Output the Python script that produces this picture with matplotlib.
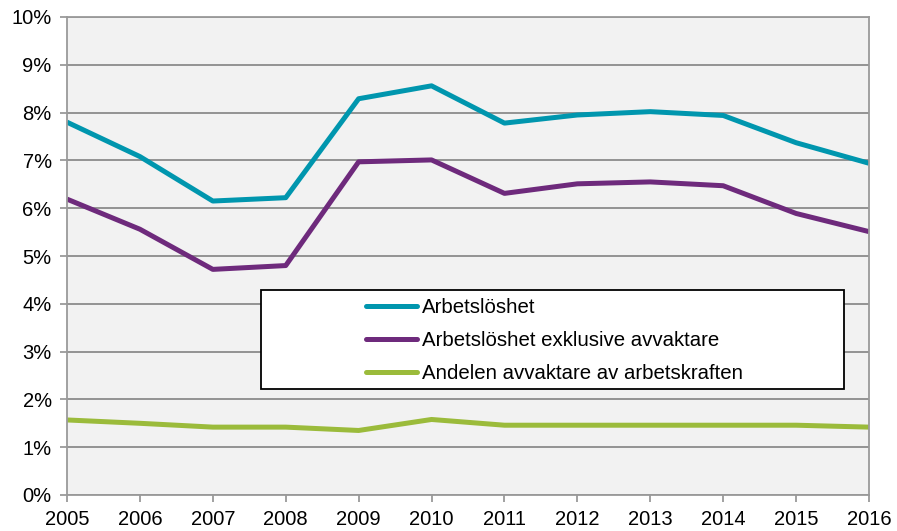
import numpy as np
import matplotlib.pyplot as plt
from matplotlib.patches import Rectangle
from matplotlib.ticker import FuncFormatter

plt.rcParams['font.family'] = ['Liberation Sans', 'DejaVu Sans']

years = np.arange(2005, 2017)
arbetsloshet = [7.8, 7.08, 6.15, 6.22, 8.29, 8.56, 7.78, 7.95, 8.02, 7.94, 7.37, 6.94]
exkl_avvaktare = [6.19, 5.56, 4.72, 4.80, 6.97, 7.01, 6.31, 6.51, 6.55, 6.47, 5.89, 5.51]
andel_avvaktare = [1.57, 1.50, 1.42, 1.42, 1.35, 1.58, 1.46, 1.46, 1.46, 1.46, 1.46, 1.42]

labels = ['Arbetslöshet',
          'Arbetslöshet exklusive avvaktare',
          'Andelen avvaktare av arbetskraften']
colors = ['#0096AE', '#6E2A7C', '#9BBB3B']

fig = plt.figure(figsize=(8.97, 5.31), dpi=100)
ax = fig.add_axes([67/897, 36/531, 802/897, 478/531])
ax.set_facecolor('#F2F2F2')

for vals, lab, col in zip([arbetsloshet, exkl_avvaktare, andel_avvaktare], labels, colors):
    ax.plot(years, vals, color=col, lw=3.6, label=lab, solid_capstyle='butt')

ax.set_xlim(2005, 2016)
ax.set_ylim(0, 10)
ax.set_xticks(years)
ax.set_yticks(np.arange(0, 11, 1))
ax.yaxis.set_major_formatter(FuncFormatter(lambda v, p: f'{v:.0f}%'))
ax.grid(axis='y', color='#8C8C8C', lw=1.3)
ax.set_axisbelow(True)

for s in ax.spines.values():
    s.set_color('#9A9A9A')
    s.set_linewidth(1.3)
ax.tick_params(axis='both', colors='#9A9A9A', labelcolor='black',
               labelsize=14.5, length=5, width=1.3)
ax.tick_params(axis='x', pad=6)
ax.tick_params(axis='y', pad=6)

# legend frame
ax.add_patch(Rectangle((0.242, 0.222), 0.727, 0.207, transform=ax.transAxes,
                       facecolor='white', edgecolor='black', lw=1.3, zorder=5))
leg = ax.legend(loc='center left', bbox_to_anchor=(0.373, 0.323), frameon=False,
                fontsize=14.7, handlelength=2.5, handletextpad=0.25,
                labelspacing=0.7, borderpad=0, borderaxespad=0)
leg.set_zorder(6)
for h in leg.get_lines():
    h.set_solid_capstyle('round')

fig.savefig('out.png', dpi=100)
